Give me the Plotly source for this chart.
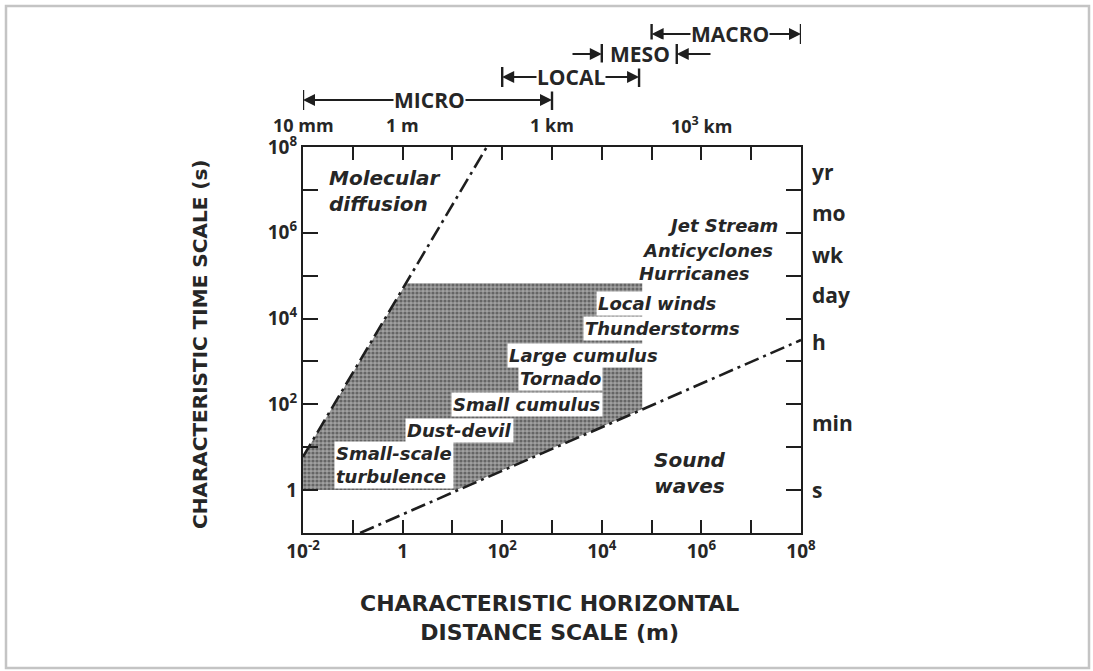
import numpy as np
import plotly.graph_objects as go

# ---------------- data ----------------
x_tick_vals = [1e-2, 1e-1, 1e0, 1e1, 1e2, 1e3, 1e4, 1e5, 1e6, 1e7, 1e8]
x_tick_text = ["10<sup>-2</sup>", "", "1", "", "10<sup>2</sup>", "", "10<sup>4</sup>", "",
               "10<sup>6</sup>", "", "10<sup>8</sup>"]
y_tick_vals = [1e-1, 1e0, 1e1, 1e2, 1e3, 1e4, 1e5, 1e6, 1e7, 1e8]
y_tick_text = ["", "1", "", "10<sup>2</sup>", "", "10<sup>4</sup>", "", "10<sup>6</sup>", "",
               "10<sup>8</sup>"]
top_tick_vals = [1e-2, 1e0, 1e3, 1e6]
top_tick_text = ["10 mm", "1 m", "1 km", "10<sup>3</sup> km"]
right_tick_vals = [10**7.41, 10**6.46, 10**5.48, 10**4.55, 10**3.45, 10**1.56, 1.0]
right_tick_text = ["yr", "mo", "wk", "day", "h", "min", "s"]

# characteristic lines
diffusion_L = [0.01, 49.0]
diffusion_T = [6.0, 1e8]
sound_L = [0.14, 1e8]
sound_T = [0.1, 3160.0]

# shaded (atmospheric phenomena) region
shade_L = [0.01, 0.01, 1.18, 6.5e4, 6.5e4, 12.0, 0.01]
shade_T = [1.0, 6.0, 6.7e4, 6.7e4, 78.0, 1.0, 1.0]

# scale ranges at top
scale_names = ["MICRO", "LOCAL", "MESO", "MACRO"]
scale_lo = [1e-2, 1e2, 1e4, 1e5]
scale_hi = [1e3, 5.6e4, 3.2e5, 1e8]

# phenomena labels
phen_text = ["Jet Stream", "Anticyclones", "Hurricanes", "Local winds", "Thunderstorms",
             "Large cumulus", "Tornado", "Small cumulus", "Dust-devil",
             "Small-scale<br>turbulence"]
plain_text = ["Molecular<br>diffusion", "Sound<br>waves"]

# ---------------- layout geometry ----------------
W, H = 1093, 671
PL, PR, PT, PB = 303, 801, 147, 533
XR = [-2, 8]
YR = [-1, 8]


def fx(X):
    return (X - PL) / (PR - PL)


def fy(Y):
    return (PB - Y) / (PB - PT)


def lx(X):
    return XR[0] + (X - PL) / (PR - PL) * (XR[1] - XR[0])


def ly(Y):
    return YR[0] + (PB - Y) / (PB - PT) * (YR[1] - YR[0])


INK = "#262626"
SANS = "Open Sans"
TICKFONT = dict(family=SANS, size=19, color=INK, weight=700)
ITAL = dict(family="DejaVu Sans", size=18, color=INK, style="italic", weight=700)

fig = go.Figure()

fig.add_trace(go.Scatter(
    x=shade_L, y=shade_T, mode="lines", fill="toself",
    line=dict(width=0, color="rgba(0,0,0,0)"),
    fillcolor="#8a8a8a",
    fillpattern=dict(shape=".", bgcolor="#a0a0a0", fgcolor="#2a2a2a", size=4, solidity=0.5),
    hoverinfo="skip", showlegend=False))

dash = "15px,5px,3px,5px"
fig.add_trace(go.Scatter(x=diffusion_L, y=diffusion_T, mode="lines",
                         line=dict(color="#1e1e1e", width=2.6, dash=dash),
                         showlegend=False, hoverinfo="skip"))
fig.add_trace(go.Scatter(x=sound_L, y=sound_T, mode="lines",
                         line=dict(color="#1e1e1e", width=2.6, dash=dash),
                         showlegend=False, hoverinfo="skip"))

axis_common = dict(type="log", showgrid=False, zeroline=False, showline=True,
                   linecolor="#1e1e1e", linewidth=2.2, ticks="inside", tickwidth=2,
                   tickcolor="#1e1e1e", mirror="ticks", tickfont=TICKFONT)

fig.update_layout(
    width=W, height=H,
    margin=dict(l=PL, r=W - PR, t=PT, b=H - PB),
    paper_bgcolor="white", plot_bgcolor="white",
    showlegend=False,
    xaxis=dict(**axis_common, range=XR, tickvals=x_tick_vals, ticktext=x_tick_text,
               ticklen=13),
    yaxis=dict(**axis_common, range=YR, tickvals=y_tick_vals, ticktext=y_tick_text,
               ticklen=15),
)

shapes = []
annotations = []

# outer frame
shapes.append(dict(type="rect", xref="paper", yref="paper",
                   x0=fx(6), x1=fx(1089), y0=fy(668), y1=fy(6),
                   line=dict(color="#c4c4c4", width=2.5), fillcolor="rgba(0,0,0,0)",
                   layer="below"))

# top distance labels and right time-unit labels
for v, t in zip(top_tick_vals, top_tick_text):
    annotations.append(dict(x=np.log10(v), y=fy(125), xref="x", yref="paper", text=t,
                            xanchor="center", yanchor="middle", showarrow=False,
                            font=dict(TICKFONT, size=18)))
for v, t in zip(right_tick_vals, right_tick_text):
    annotations.append(dict(x=fx(810), y=np.log10(v), xref="paper", yref="y", text=t,
                            xanchor="left", yanchor="middle", showarrow=False,
                            font=dict(TICKFONT, size=21)))

# scale bars at top
row_Y = [100, 77, 54, 34]
text_X = [429, 571, 640, 730]
for i, name in enumerate(scale_names):
    Yc = row_Y[i]
    for v in (scale_lo[i], scale_hi[i]):
        shapes.append(dict(type="line", xref="x", yref="paper", x0=v, x1=v,
                           y0=fy(Yc + 10), y1=fy(Yc - 10),
                           line=dict(color="#1e1e1e", width=2.4)))
    if name == "MESO":
        tails = [lx(571), lx(712)]
    else:
        tails = [lx(text_X[i]), lx(text_X[i])]
    for v, t in zip((scale_lo[i], scale_hi[i]), tails):
        annotations.append(dict(x=np.log10(v), y=fy(Yc), xref="x", yref="paper",
                                axref="x", ax=t, ayref="pixel", ay=0, text="",
                                showarrow=True, arrowhead=2, arrowsize=1.2,
                                arrowwidth=2, arrowcolor="#1e1e1e", standoff=0))
for i, name in enumerate(scale_names):
    annotations.append(dict(x=lx(text_X[i]), y=fy(row_Y[i]), xref="x", yref="paper",
                            text=name, showarrow=False, bgcolor="white", borderpad=0,
                            xanchor="center", yanchor="middle",
                            font=dict(family=SANS, size=21, color=INK, weight=700)))

# phenomena labels (left x pixel, centre y pixel)
phen_pos = [(666, 225), (640, 250), (637, 273), (596, 303), (583, 328),
            (507, 355), (518, 378), (451, 404), (405, 430), (334, 465)]
boxed = [False, False, False, True, True, True, True, True, True, True]
for txt, (X, Y), b in zip(phen_text, phen_pos, boxed):
    annotations.append(dict(x=lx(X), y=ly(Y), xref="x", yref="y", text=txt,
                            xanchor="left", yanchor="middle", align="left",
                            showarrow=False,
                            bgcolor="white" if b else "rgba(0,0,0,0)", borderpad=1,
                            font=ITAL))
plain_pos = [(327, 191, "left"), (690, 473, "center")]
for txt, (X, Y, anc) in zip(plain_text, plain_pos):
    annotations.append(dict(x=lx(X), y=ly(Y), xref="x", yref="y", text=txt,
                            xanchor=anc, yanchor="middle",
                            align="left" if anc == "left" else "center",
                            showarrow=False, font=dict(ITAL, size=20)))

# axis titles
TITLEFONT = dict(family="DejaVu Sans", size=20, color=INK, weight=700)
annotations.append(dict(x=fx(200), y=fy(345), xref="paper", yref="paper",
                        text="CHARACTERISTIC TIME SCALE (s)", textangle=-90,
                        xanchor="center", yanchor="middle", showarrow=False,
                        font=TITLEFONT))
annotations.append(dict(x=fx(549), y=fy(618), xref="paper", yref="paper",
                        text="CHARACTERISTIC HORIZONTAL<br>DISTANCE SCALE (m)",
                        xanchor="center", yanchor="middle", showarrow=False,
                        font=dict(TITLEFONT, size=22)))

fig.update_layout(shapes=shapes, annotations=annotations)
fig.write_html("out.html")
